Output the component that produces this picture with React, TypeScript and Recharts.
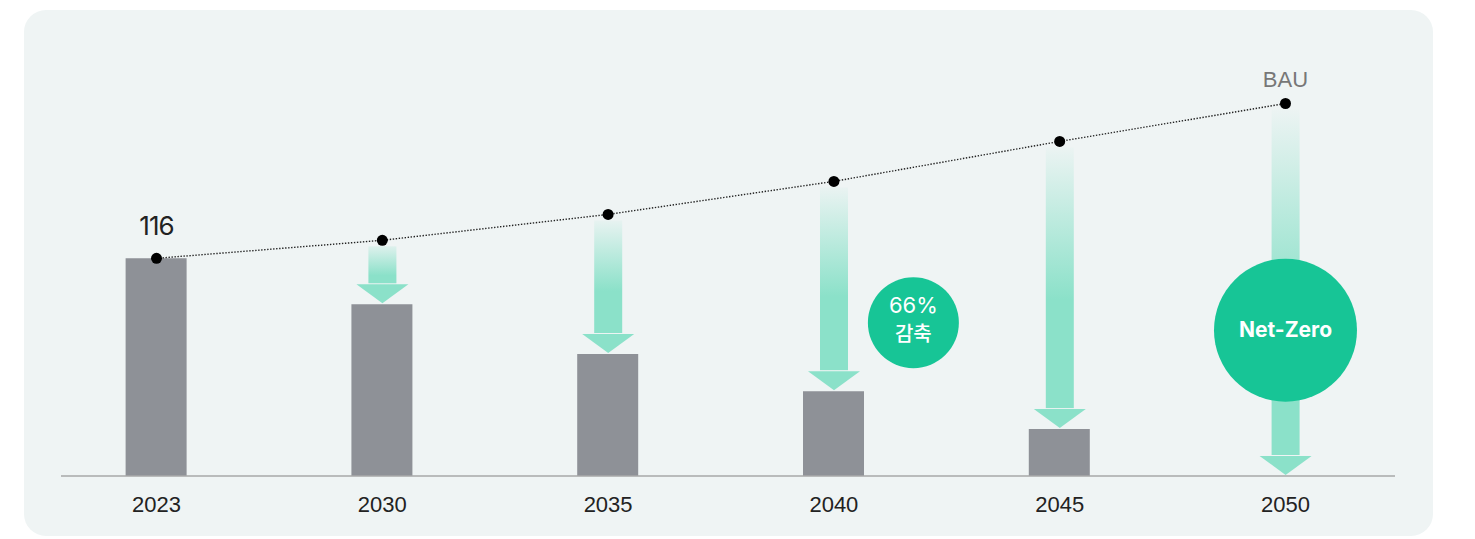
import React from "react";
import {
  ComposedChart,
  Bar,
  Line,
  XAxis,
  YAxis,
  ReferenceDot,
} from "recharts";

// 연도별 배출량 (BAU 대비 감축 경로)
const YEARS = ["2023", "2030", "2035", "2040", "2045", "2050"];
const BAU = [116, 125.6, 139.4, 157, 178.3, 198.5];
const TARGET = [116, 91.5, 65, 45.2, 25, 0];

const REDUCTION_LABEL = ["66%", "감축"];
const NETZERO_LABEL = "Net-Zero";

const MINT = "#8be1c9";
const GREEN = "#17c596";
const GRAY = "#8e9197";

const data = YEARS.map((year, i) => ({
  idx: i,
  year,
  bau: BAU[i],
  target: TARGET[i],
  gap: [TARGET[i], BAU[i]],
}));

const X_DOMAIN = [-0.423, 5.485];
const Y_DOMAIN = [0, 243];

const ArrowShape = (props: any) => {
  const { x, y, width, height, index } = props;
  const h = Math.abs(height);
  if (!h || h < 12) return null;
  const cx = x + width / 2;
  const top = Math.min(y, y + height);
  const bottom = top + h;
  const shaft = 28;
  const headW = 52;
  const headH = 20;
  const gid = `arrow-grad-${index}`;
  return (
    <g>
      <defs>
        <linearGradient
          id={gid}
          gradientUnits="userSpaceOnUse"
          x1={0}
          y1={top}
          x2={0}
          y2={bottom}
        >
          <stop offset="0%" stopColor={MINT} stopOpacity={0} />
          <stop offset="55%" stopColor={MINT} stopOpacity={1} />
          <stop offset="100%" stopColor={MINT} stopOpacity={1} />
        </linearGradient>
      </defs>
      <rect
        x={cx - shaft / 2}
        y={top + 6}
        width={shaft}
        height={Math.max(0, h - 6 - headH - 1)}
        fill={`url(#${gid})`}
      />
      <path
        d={`M${cx - headW / 2},${bottom - headH} L${cx + headW / 2},${bottom - headH} L${cx},${bottom - 1} Z`}
        fill={`url(#${gid})`}
      />
    </g>
  );
};

const renderLineLabel = (props: any) => {
  const { x, y, index } = props;
  if (index === 0) {
    return (
      <text
        x={x}
        y={y - 23}
        textAnchor="middle"
        fontFamily="Inter, sans-serif"
        fontSize={26}
        letterSpacing={-1}
        fill="#222"
      >
        {BAU[0]}
      </text>
    );
  }
  if (index === YEARS.length - 1) {
    return (
      <text
        x={x}
        y={y - 17}
        textAnchor="middle"
        fontFamily="'Liberation Sans', Arial, sans-serif"
        fontSize={22}
        fill="#777"
      >
        BAU
      </text>
    );
  }
  return null;
};

const ReductionBadge = (props: any) => {
  const { cx, cy } = props;
  return (
    <g>
      <circle cx={cx} cy={cy} r={45.5} fill={GREEN} />
      <text
        x={cx}
        y={cy - 10}
        textAnchor="middle"
        fontFamily="Inter, 'Noto Sans CJK KR', sans-serif"
        fontSize={22}
        fill="#fff"
      >
        {REDUCTION_LABEL[0]}
      </text>
      <text
        x={cx}
        y={cy + 18}
        textAnchor="middle"
        fontFamily="'Noto Sans CJK KR', sans-serif"
        fontSize={20}
        fontWeight={500}
        fill="#fff"
      >
        {REDUCTION_LABEL[1]}
      </text>
    </g>
  );
};

const NetZeroBadge = (props: any) => {
  const { cx, cy } = props;
  return (
    <g>
      <circle cx={cx} cy={cy} r={71.5} fill={GREEN} />
      <text
        x={cx}
        y={cy + 7}
        textAnchor="middle"
        fontFamily="Inter, sans-serif"
        fontSize={21}
        fontWeight={700}
        fill="#fff"
      >
        {NETZERO_LABEL}
      </text>
    </g>
  );
};

export default function App() {
  return (
    <div
      style={{
        position: "absolute",
        left: 0,
        top: 0,
        width: 1475,
        height: 539,
        overflow: "hidden",
        background: "#fff",
      }}
    >
      {/* 배경 패널 */}
      <div
        style={{
          position: "absolute",
          left: 24,
          top: 10,
          width: 1409,
          height: 526,
          borderRadius: 22,
          background: "#eff4f4",
        }}
      />
      <div style={{ position: "absolute", left: 0, top: 0 }}>
        <ComposedChart
          width={1475}
          height={539}
          data={data}
          margin={{ top: 20, right: 80, left: 61, bottom: 33 }}
        >
          <XAxis
            xAxisId="main"
            dataKey="idx"
            type="number"
            domain={X_DOMAIN}
            allowDataOverflow
            height={30}
            ticks={[0, 1, 2, 3, 4, 5]}
            tickFormatter={(v: number) => YEARS[v] ?? ""}
            axisLine={{ stroke: "#a7a9a9", strokeWidth: 1.5 }}
            tickLine={false}
            tickSize={0}
            tickMargin={20}
            tick={{
              fontSize: 22,
              fill: "#222",
              fontFamily: "'Liberation Sans', Arial, sans-serif",
            }}
          />
          <XAxis
            xAxisId="over"
            dataKey="idx"
            type="number"
            domain={X_DOMAIN}
            allowDataOverflow
            hide
          />
          <YAxis hide domain={Y_DOMAIN} allowDataOverflow />

          {/* 목표 배출량 */}
          <Bar
            xAxisId="main"
            dataKey="target"
            fill={GRAY}
            barSize={61}
            isAnimationActive={false}
          />

          {/* 감축 화살표 (BAU → 목표) */}
          <Bar
            xAxisId="over"
            dataKey="gap"
            barSize={52}
            shape={ArrowShape}
            isAnimationActive={false}
          />

          {/* BAU 추세선 */}
          <Line
            xAxisId="main"
            dataKey="bau"
            stroke="#222"
            strokeWidth={1.4}
            strokeDasharray="1.4 1.6"
            dot={{ r: 5.5, fill: "#000", stroke: "none" }}
            activeDot={false}
            label={renderLineLabel}
            isAnimationActive={false}
          />

          <ReferenceDot
            xAxisId="main"
            x={3.352}
            y={81.7}
            r={45.5}
            shape={ReductionBadge}
            ifOverflow="visible"
          />
          <ReferenceDot
            xAxisId="main"
            x={5}
            y={77.7}
            r={71.5}
            shape={NetZeroBadge}
            ifOverflow="visible"
          />
        </ComposedChart>
      </div>
    </div>
  );
}
